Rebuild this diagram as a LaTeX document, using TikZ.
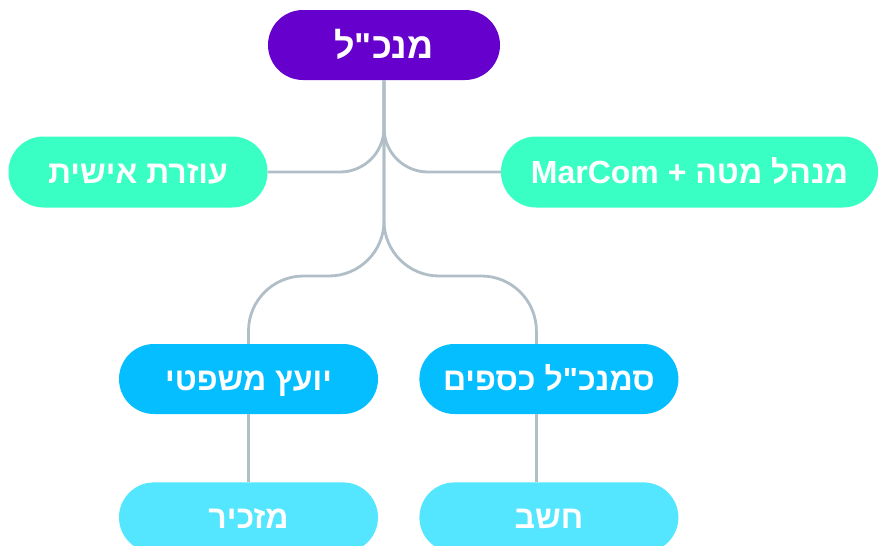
\documentclass[tikz,border=0pt]{standalone}
\usepackage{fontspec}
\newfontfamily\hebfont[Script=Hebrew]{Liberation Sans}
\TeXXeTstate=1
\usepackage{tikz}
\usetikzlibrary{positioning}
\definecolor{ceopurple}{RGB}{102, 0, 204}
\definecolor{staffmint}{RGB}{58, 255, 196}
\definecolor{deptblue}{RGB}{5, 190, 255}
\definecolor{teamcyan}{RGB}{85, 230, 255}
\definecolor{linkgray}{RGB}{176, 190, 199}

\begin{document}
\begin{tikzpicture}[
    x=1pt, y=-1pt,
    node distance=68pt and 41pt,
    % Styles
    pill/.style={fill=#1, text=white, rounded corners=35pt, minimum width=259pt, minimum height=70pt, inner sep=0pt, text height=23pt, text depth=0pt, font=\hebfont\bfseries\fontsize{32}{38}\selectfont},
    link/.style={draw=linkgray, line width=2.8pt, rounded corners=44pt}
]
    \useasboundingbox (0,0) rectangle (878,546);

    % Top
    \node (ceo) [pill=ceopurple, minimum width=232pt, text height=26pt, font=\hebfont\bfseries\fontsize{36}{42}\selectfont] at (384,45) {\beginR מנכ"ל\endR};

    % Staff
    \node (asst) [pill=staffmint, minimum height=71pt] at (138,172) {\beginR עוזרת אישית\endR};
    \node (staff) [pill=staffmint, minimum width=377pt, minimum height=71pt] at (689.5,172) {\beginR מנהל מטה + \beginL MarCom\endL\endR};

    % Departments
    \node (legal) [pill=deptblue] at (248.5,379) {\beginR יועץ משפטי\endR};
    \node (cfo) [pill=deptblue, right=of legal] {\beginR סמנכ"ל כספים\endR};

    % Teams
    \node (secretary) [pill=teamcyan, below=of legal] {\beginR מזכיר\endR};
    \node (accountant) [pill=teamcyan, below=of cfo] {\beginR חשב\endR};

    % Links
    \coordinate (fork) at (384,276);
    \draw [link] (ceo.south) |- (asst.east);
    \draw [link] (ceo.south) |- (staff.west);
    \draw [link, rounded corners=55pt] (ceo.south) -- (fork) -| (legal.north);
    \draw [link, rounded corners=55pt] (ceo.south) -- (fork) -| ([xshift=-12.5pt]cfo.north);
    \draw [link] (legal) -- (secretary);
    \draw [link] ([xshift=-12.5pt]cfo.south) -- ([xshift=-12.5pt]accountant.north);

\end{tikzpicture}
\end{document}
